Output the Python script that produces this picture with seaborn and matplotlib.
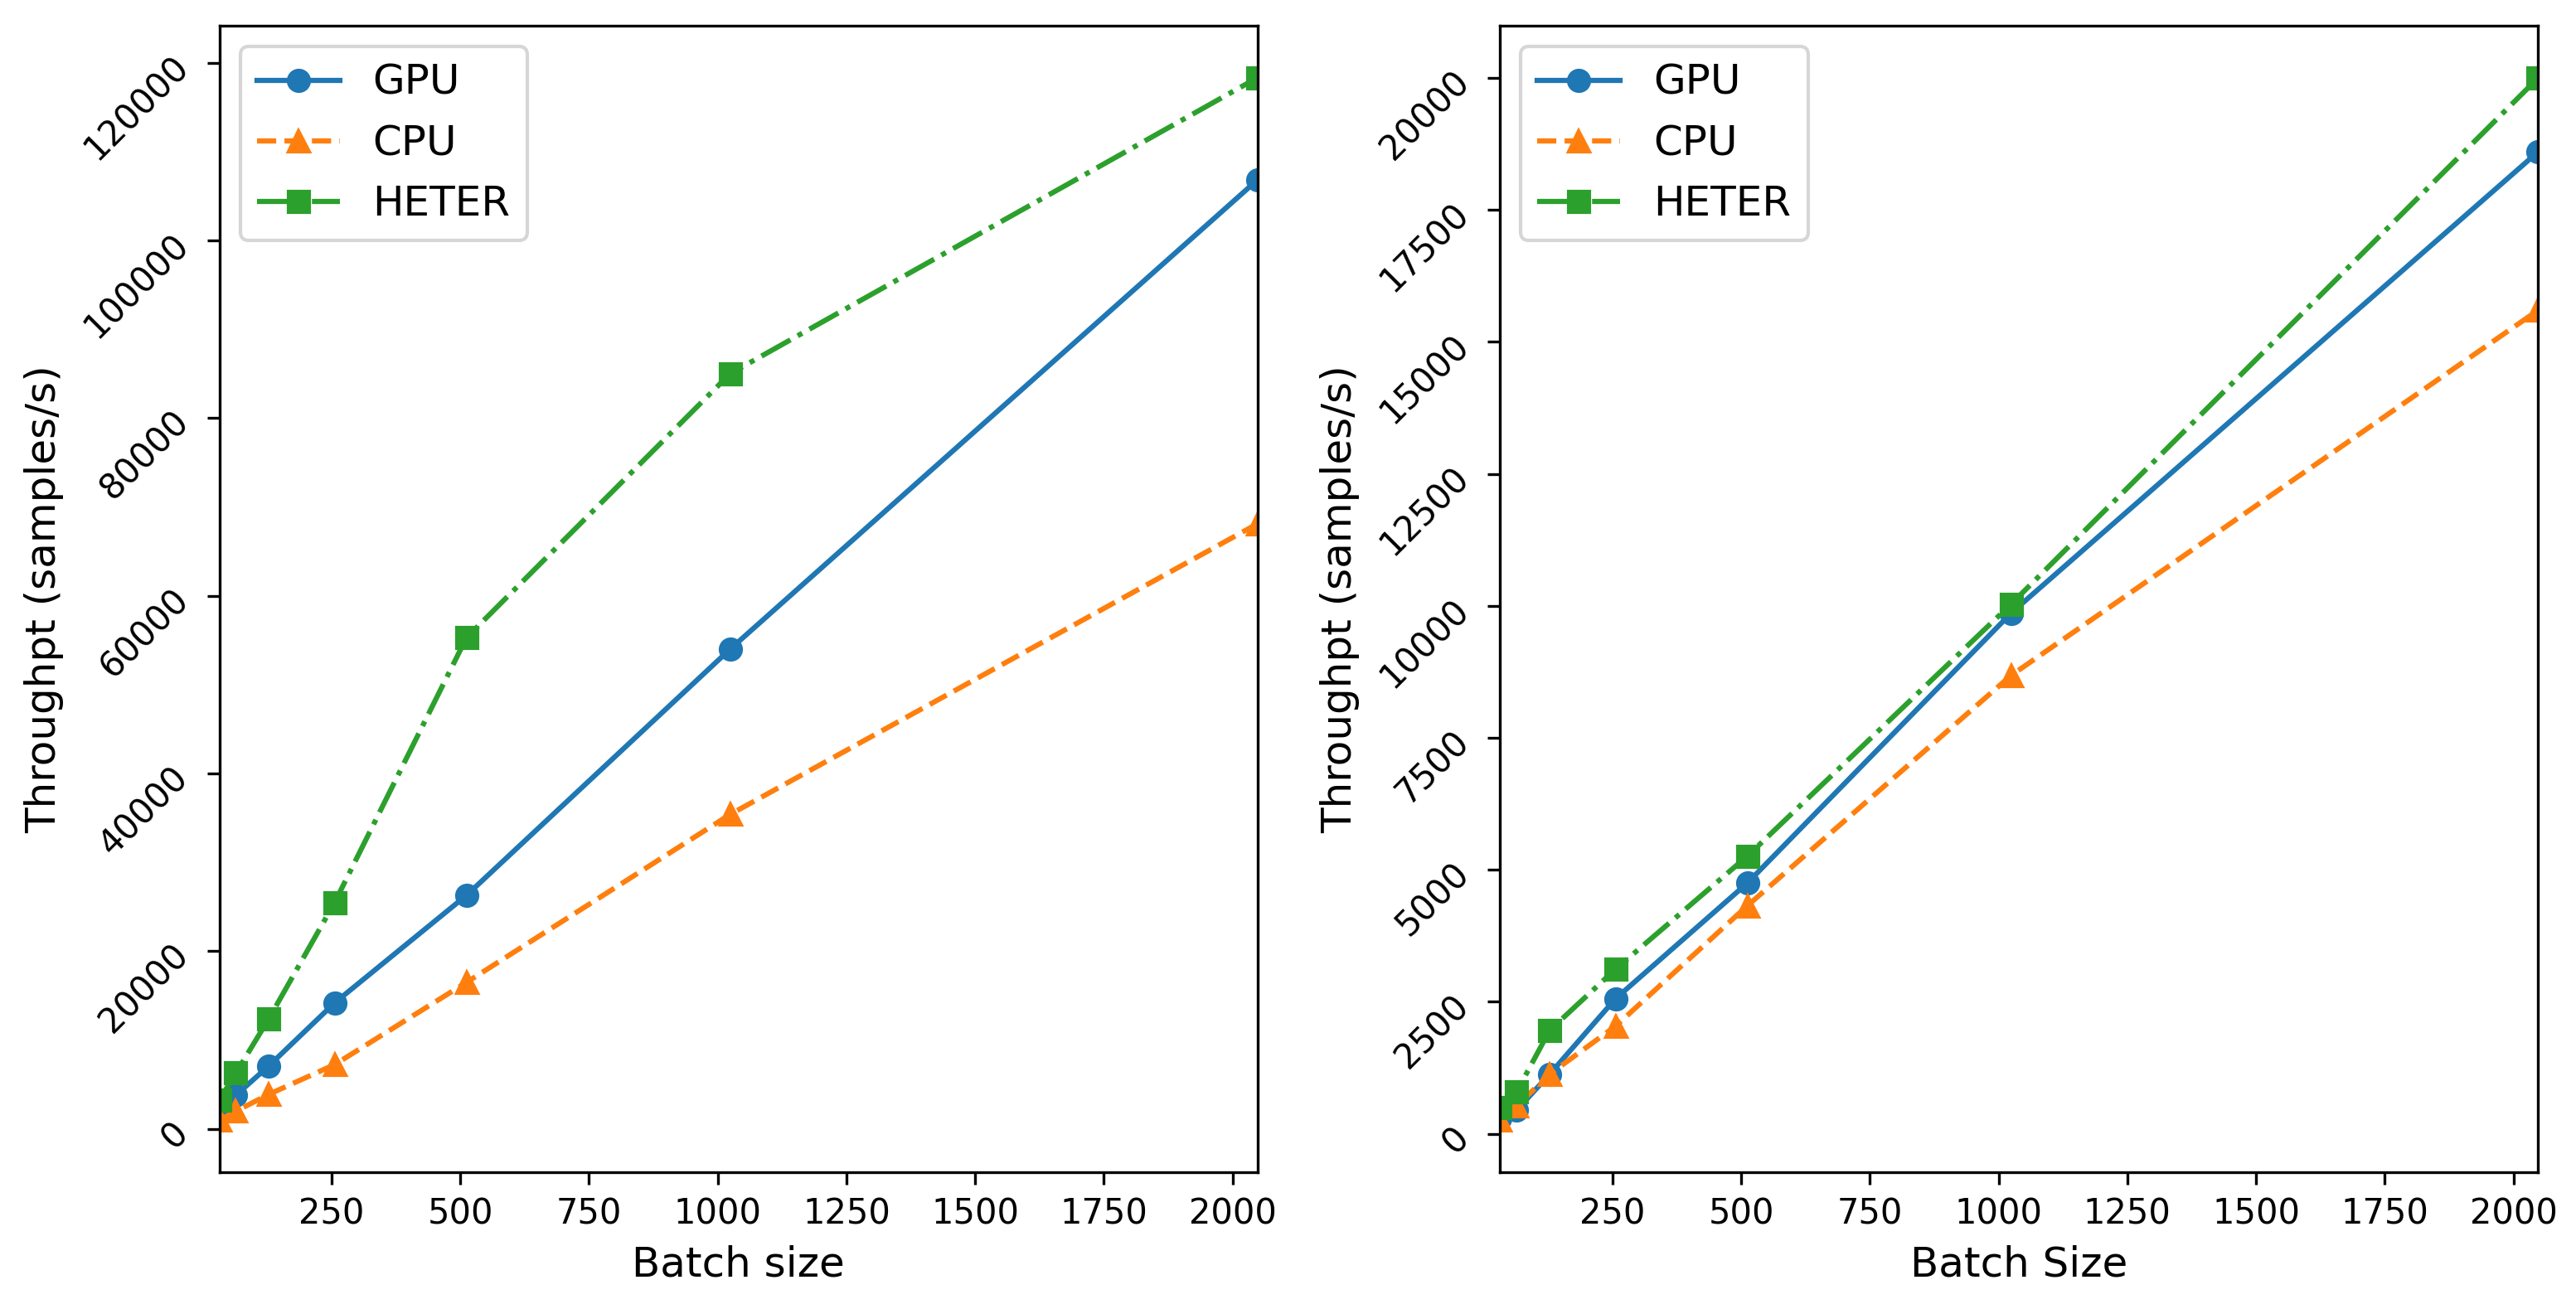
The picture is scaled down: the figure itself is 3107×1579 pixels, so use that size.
import matplotlib
matplotlib.use("Agg")
import matplotlib.pyplot as plt
import seaborn as sns
import pandas as pd

batch_sizes = [32, 64, 128, 256, 512, 1024, 2048]

left_gpu = [2000, 3800, 7100, 14200, 26300, 54000, 106800]
left_cpu = [1000, 2000, 3900, 7250, 16500, 35400, 68100]
left_heter = [3250, 6300, 12400, 25500, 55300, 85000, 118300]

right_gpu = [300, 450, 1130, 2560, 4750, 9860, 18600]
right_cpu = [260, 530, 1130, 2040, 4320, 8680, 15600]
right_heter = [500, 800, 1960, 3120, 5260, 10030, 20000]

series_names = ["GPU", "CPU", "HETER"]
colors = ["#1f77b4", "#ff7f0e", "#2ca02c"]
markers = ["o", "^", "s"]
linestyles = ["-", "--", "-."]

xlabels = ["Batch size", "Batch Size"]
ylabel = "Throughpt (samples/s)"

W, H = 3107, 1579
fig = plt.figure(figsize=(W / 300, H / 300), dpi=300)
ax_w = (1516.5 - 264.6) / W
ax_b = (H - 1414) / H
ax_h = (1414 - 31) / H
ax1 = fig.add_axes([264.6 / W, ax_b, ax_w, ax_h])
ax2 = fig.add_axes([1809.5 / W, ax_b, ax_w, ax_h])

panels = [
    (ax1, [left_gpu, left_cpu, left_heter], xlabels[0]),
    (ax2, [right_gpu, right_cpu, right_heter], xlabels[1]),
]

for ax, data, xl in panels:
    for name, vals, c, m, ls in zip(series_names, data, colors, markers, linestyles):
        df = pd.DataFrame({"batch": batch_sizes, "thr": vals})
        sns.lineplot(data=df, x="batch", y="thr", ax=ax, color=c, marker=m,
                     linestyle=ls, label=name, markeredgecolor=c,
                     markeredgewidth=1.0, markersize=6, linewidth=1.5)
    ax.set_xlim(batch_sizes[0], batch_sizes[-1])
    ax.set_xlabel(xl, fontsize=12)
    ax.set_ylabel(ylabel, fontsize=12)
    ax.tick_params(axis="y", labelrotation=45, labelsize=10)
    ax.tick_params(axis="x", labelsize=10)
    ax.legend(loc="upper left", fontsize=12)

fig.savefig("out.png", dpi=300)
